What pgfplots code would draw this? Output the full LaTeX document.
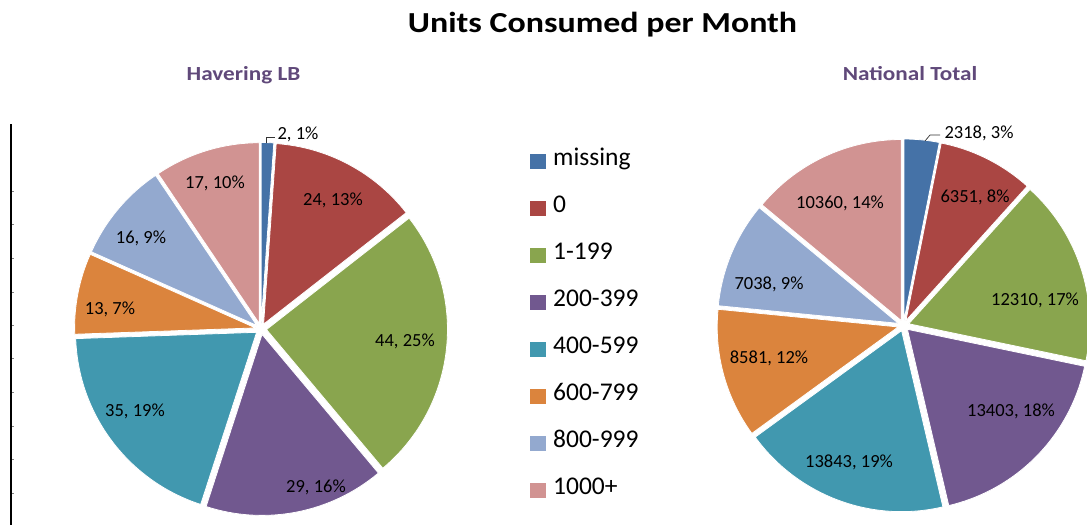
\documentclass[border=0pt]{standalone}
\usepackage{graphicx}
\usepackage{pgfplots}
\usepackage{pgfplotstable}
\pgfplotsset{compat=1.18}
\usepackage{fontspec}
\setmainfont{Carlito}

\definecolor{s0}{HTML}{4572A7}
\definecolor{s1}{HTML}{AA4643}
\definecolor{s2}{HTML}{89A54E}
\definecolor{s3}{HTML}{71588F}
\definecolor{s4}{HTML}{4198AF}
\definecolor{s5}{HTML}{DB843D}
\definecolor{s6}{HTML}{93A9CF}
\definecolor{s7}{HTML}{D19392}
\definecolor{subt}{HTML}{60497A}

\pgfplotstableread{
cat hav nat
missing 2 2318
0 24 6351
1-199 44 12310
200-399 29 13403
400-599 35 13843
600-799 13 8581
800-999 16 7038
1000+ 17 10360
}\units

% cumulative angles (start at 12 o'clock, clockwise)
\newcommand\computeangles[2]{%
  \gdef\tot{0}%
  \foreach \i in {0,...,7}{%
    \pgfplotstablegetelem{\i}{#1}\of\units
    \xdef\tot{\fpeval{\tot+\pgfplotsretval}}}%
  \gdef\cum{0}%
  \foreach \i in {0,...,7}{%
    \pgfplotstablegetelem{\i}{#1}\of\units
    \expandafter\xdef\csname #2s\i\endcsname{\fpeval{90-360*\cum/\tot}}%
    \xdef\cum{\fpeval{\cum+\pgfplotsretval}}%
    \expandafter\xdef\csname #2e\i\endcsname{\fpeval{90-360*\cum/\tot}}%
    \expandafter\xdef\csname #2b\i\endcsname{\fpeval{(\csname #2s\i\endcsname+\csname #2e\i\endcsname)/2}}%
  }%
}
\computeangles{hav}{h}
\computeangles{nat}{n}

\newcommand\lblfont{\fontsize{18.5bp}{22bp}\selectfont}

\begin{document}
\begin{tikzpicture}
\begin{axis}[
  name=ax,
  x=1bp, y=1bp,
  xmin=0, xmax=1087, ymin=0, ymax=525,
  hide axis,
  clip=true,
]
% pies
\pgfplotsinvokeforeach{0,...,7}{%
  \edef\tmp{\noexpand\fill[s#1, draw=white, line width=0.8bp]
    (axis cs:261,196) ++(\csname hb#1\endcsname:5.5bp)
    -- ++(\csname hs#1\endcsname:181bp)
    arc[start angle=\csname hs#1\endcsname, end angle=\csname he#1\endcsname, radius=181bp] -- cycle;}\tmp
  \edef\tmp{\noexpand\fill[s#1, draw=white, line width=0.8bp]
    (axis cs:903.5,199.5) ++(\csname nb#1\endcsname:5.5bp)
    -- ++(\csname ns#1\endcsname:181bp)
    arc[start angle=\csname ns#1\endcsname, end angle=\csname ne#1\endcsname, radius=181bp] -- cycle;}\tmp
}
% leader lines
\draw[black!80, line width=0.7bp] (axis cs:266.5,382) -- (axis cs:266.5,388) -- (axis cs:275,388);
\draw[black!80, line width=0.7bp] (axis cs:925,384) -- (axis cs:930,390) -- (axis cs:940,390);
% data labels (Havering LB)
\begin{scope}[every node/.style={anchor=base, font=\lblfont, inner sep=0pt}]
\node at (axis cs:298,385.5) {2, 1\%};
\node at (axis cs:333,319.5) {24, 13\%};
\node at (axis cs:405,178.5) {44, 25\%};
\node at (axis cs:316,32.5) {29, 16\%};
\node at (axis cs:135,108.5) {35, 19\%};
\node at (axis cs:110,210.5) {13, 7\%};
\node at (axis cs:141,281.5) {16, 9\%};
\node at (axis cs:215,336.5) {17, 10\%};
% National Total
\node at (axis cs:979,386.5) {2318, 3\%};
\node at (axis cs:975,322.5) {6351, 8\%};
\node at (axis cs:1035,219.5) {12310, 17\%};
\node at (axis cs:1011,108.5) {13403, 18\%};
\node at (axis cs:849,57.5) {13843, 19\%};
\node at (axis cs:769,161.5) {8581, 12\%};
\node at (axis cs:769,235.5) {7038, 9\%};
\node at (axis cs:840,316.5) {10360, 14\%};
\end{scope}
% legend
\pgfplotsinvokeforeach{0,...,7}{%
  \pgfplotstablegetelem{#1}{cat}\of\units
  \edef\tmp{\noexpand\fill[s#1] (axis cs:530,{525-161.7-47*#1-7.75}) rectangle (axis cs:545.5,{525-161.7-47*#1+7.75});
    \noexpand\node[anchor=mid west, inner sep=0pt, font=\noexpand\fontsize{25.5bp}{30bp}\noexpand\selectfont] at (axis cs:553,{525-163-47*#1}) {\pgfplotsretval};}\tmp
}
% left axis remnant
\draw[black, line width=2bp] (axis cs:11,0) -- (axis cs:11,401);
\foreach \yy in {192,225,259,293,326,359,393,427,460,494}{
  \edef\tmp{\noexpand\draw[gray, line width=1bp] (axis cs:12,{525-\yy}) -- (axis cs:13.5,{525-\yy});}\tmp
}
% titles
\node[anchor=base, font=\fontsize{29bp}{34bp}\selectfont\bfseries] at (axis cs:602.5,492) {\scalebox{1.17}[1]{Units Consumed per Month}};
\node[anchor=base, text=subt, font=\fontsize{20bp}{24bp}\selectfont\bfseries] at (axis cs:243.5,444) {\scalebox{1.16}[1]{Havering LB}};
\node[anchor=base, text=subt, font=\fontsize{20bp}{24bp}\selectfont\bfseries] at (axis cs:910,444) {\scalebox{1.16}[1]{National Total}};
\end{axis}
\pgfresetboundingbox
\path[use as bounding box] (ax.south west) rectangle (ax.north east);
\end{tikzpicture}
\end{document}
